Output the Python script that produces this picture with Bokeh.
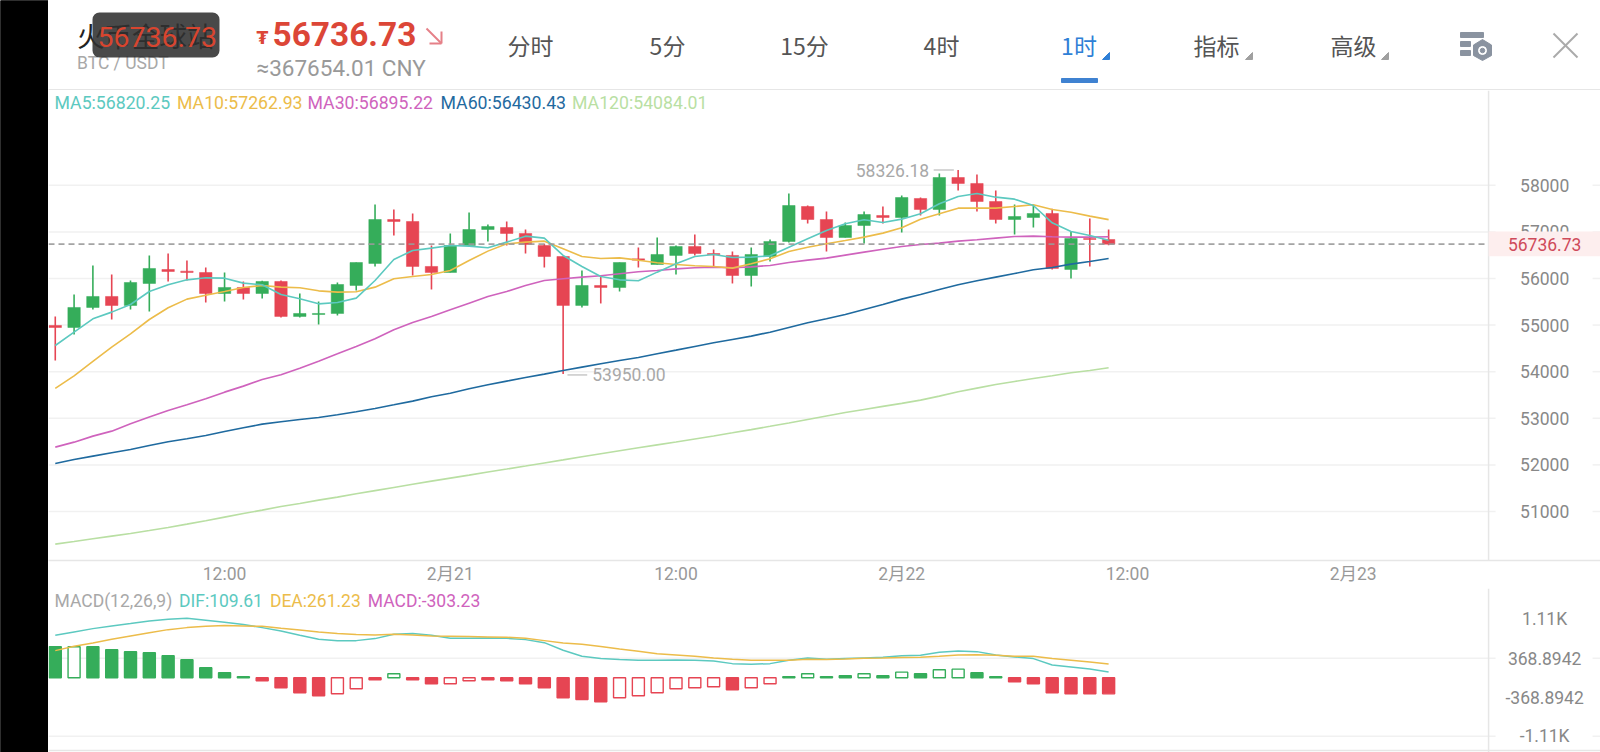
from bokeh.embed import file_html
from bokeh.layouts import column, row
from bokeh.models import BoxAnnotation, ColumnDataSource, FixedTicker, Label, Range1d, Span
from bokeh.plotting import figure
from bokeh.resources import INLINE

# ── Data ──────────────────────────────────────────────────────────────────────
hours = list(range(57))

open_ = [54991, 54948, 55378, 55614, 55421, 55893, 56193, 56157, 56129, 55678,
         55807, 55678, 55936, 55185, 55227, 55249, 55850, 56322, 57266, 57223,
         56258, 56129, 56708, 57051, 57094, 56966, 56708, 56472, 55421, 55850,
         55807, 56422, 56300, 56494, 56687, 56536, 56494, 56064, 56472, 56794,
         57545, 57266, 56880, 57137, 57352, 57309, 57717, 57481, 58167, 58039,
         57652, 57266, 57309, 57395, 56193, 56858, 56837]
close = [54948, 55378, 55614, 55421, 55914, 56215, 56150, 56129, 55678, 55807,
         55678, 55936, 55185, 55249, 55249, 55871, 56343, 57266, 57223, 56258,
         56129, 56708, 57051, 57116, 56966, 56730, 56472, 55421, 55850, 55807,
         56343, 56393, 56515, 56687, 56536, 56508, 56064, 56515, 56794, 57566,
         57266, 56880, 57137, 57373, 57309, 57738, 57481, 58167, 58039, 57652,
         57266, 57330, 57395, 56215, 56858, 56837, 56736.73]
high = [55185, 55657, 56279, 56086, 55957, 56494, 56536, 56386, 56236, 56129,
        55936, 55950, 55957, 55678, 55506, 55914, 56343, 57588, 57481, 57395,
        56708, 56966, 57416, 57159, 57223, 57051, 56744, 56472, 56172, 56064,
        56343, 56665, 56880, 56708, 56944, 56622, 56579, 56665, 56837, 57824,
        57566, 57438, 57202, 57438, 57545, 57781, 57738, 58253, 58326.18, 58232,
        57888, 57588, 57566, 57495, 57009, 57288, 57051]
low = [54240, 54798, 55335, 55120, 55335, 55292, 55936, 55957, 55485, 55506,
       55549, 55571, 55163, 55163, 55013, 55206, 55742, 56258, 56923, 56064,
       55764, 56129, 56708, 56794, 56708, 56536, 56236, 53950, 55378, 55464,
       55721, 56236, 56300, 56086, 56494, 56236, 55893, 55828, 56365, 56770,
       57180, 56579, 56880, 56751, 57180, 56987, 57352, 57352, 57888, 57438,
       57180, 56944, 57094, 56193, 56000, 56258, 56715]

ma5 = [54562, 54848, 55134, 55278, 55442, 55721, 55864, 55971, 56014, 56007,
       55900, 55864, 55657, 55564, 55456, 55485, 55578, 55957, 56408, 56601,
       56651, 56708, 56694, 56658, 56780, 56908, 56866, 56494, 56258, 56043,
       55971, 55950, 56136, 56315, 56472, 56515, 56451, 56458, 56486, 56672,
       56851, 57030, 57173, 57259, 57202, 57273, 57388, 57602, 57760, 57824,
       57745, 57702, 57566, 57195, 57009, 56923, 56820.25]
ma10 = [53640, 53911, 54219, 54526, 54813, 55120, 55371, 55557, 55642, 55721,
        55807, 55850, 55814, 55800, 55735, 55707, 55714, 55814, 55993, 56043,
        56086, 56172, 56386, 56587, 56744, 56780, 56801, 56637, 56472, 56429,
        56443, 56393, 56336, 56300, 56272, 56258, 56222, 56315, 56422, 56579,
        56672, 56744, 56815, 56887, 56973, 57087, 57273, 57388, 57509, 57509,
        57509, 57545, 57581, 57481, 57423, 57338, 57262.93]
ma30 = [52381, 52488, 52617, 52724, 52882, 53025, 53168, 53289, 53418, 53561,
        53690, 53833, 53933, 54076, 54226, 54383, 54541, 54705, 54898, 55056,
        55185, 55328, 55471, 55614, 55721, 55850, 55957, 55993, 56029, 56057,
        56100, 56143, 56172, 56207, 56229, 56243, 56229, 56250, 56279, 56343,
        56393, 56436, 56501, 56565, 56629, 56687, 56730, 56758, 56801, 56830,
        56866, 56901, 56908, 56894, 56887, 56887, 56895.22]
ma60 = [52030, 52116, 52188, 52259, 52331, 52417, 52495, 52560, 52631, 52717,
        52796, 52874, 52924, 52974, 53017, 53075, 53139, 53211, 53289, 53368,
        53461, 53539, 53632, 53718, 53797, 53876, 53947, 54026, 54097, 54169,
        54240, 54305, 54384, 54462, 54541, 54620, 54691, 54763, 54848, 54949,
        55049, 55135, 55228, 55335, 55442, 55557, 55657, 55764, 55864, 55950,
        56029, 56107, 56186, 56236, 56308, 56365, 56430.43]
ma120 = [50299, 50356, 50414, 50471, 50528, 50592, 50657, 50728, 50800, 50879,
         50957, 51029, 51108, 51172, 51243, 51308, 51379, 51447, 51515, 51583,
         51651, 51716, 51780, 51846, 51910, 51975, 52042, 52107, 52175, 52240,
         52305, 52368, 52430, 52492, 52556, 52620, 52688, 52757, 52828, 52900,
         52975, 53050, 53125, 53190, 53255, 53320, 53389, 53475, 53568, 53647,
         53725, 53790, 53854, 53911, 53976, 54026, 54084.01]

dif = [804, 867, 930, 981, 1025, 1075, 1107, 1126, 1088, 1050,
       1006, 949, 886, 804, 728, 703, 703, 741, 823, 836,
       804, 747, 747, 754, 747, 722, 665, 520, 407, 363,
       344, 331, 331, 337, 331, 318, 268, 255, 268, 331,
       375, 350, 363, 375, 388, 419, 426, 482, 508, 495,
       432, 394, 363, 243, 205, 167, 109.61]
dea = [514, 596, 659, 728, 791, 854, 911, 949, 974, 987,
       981, 974, 936, 905, 867, 836, 817, 810, 823, 810,
       791, 785, 779, 772, 766, 747, 703, 659, 634, 590,
       545, 501, 457, 432, 407, 375, 350, 331, 331, 331,
       350, 344, 356, 369, 375, 382, 388, 407, 432, 438,
       426, 407, 407, 363, 331, 300, 261.23]
macd = [586, 586, 586, 530, 492, 473, 416, 341, 189, 95,
        19, -57, -189, -284, -341, -303, -208, -38, 76, -38,
        -113, -113, -57, -38, -57, -113, -189, -378, -410, -454,
        -378, -341, -284, -208, -189, -170, -227, -189, -113, 19,
        76, 19, 38, 76, 38, 107, 76, 151, 164, 95,
        19, -76, -113, -284, -303, -303, -303.23]
macd_hollow = [1, 15, 16, 18, 21, 22, 30, 31, 32, 33, 34, 35, 37, 38, 40, 43, 45, 47, 48]

last_price = 56736.73
high_price = 58326.18
low_price = 53950.00
price_ticks = [51000, 52000, 53000, 54000, 55000, 56000, 57000, 58000]
macd_ticks = [1106.68, 368.8942, -368.8942, -1106.68]
macd_tick_labels = ["1.11K", "368.8942", "-368.8942", "-1.11K"]
macd_grid = [368.8942, -1106.68]
time_ticks = [9, 21, 33, 45, 57, 69]
time_labels = ["12:00", "2月21", "12:00", "2月22", "12:00", "2月23"]

ma_labels = ["MA5:56820.25", "MA10:57262.93", "MA30:56895.22", "MA60:56430.43", "MA120:54084.01"]
macd_labels = ["MACD(12,26,9)", "DIF:109.61", "DEA:261.23", "MACD:-303.23"]
tab_labels = ["分时", "5分", "15分", "4时", "1时", "指标", "高级"]

# ── Styles ────────────────────────────────────────────────────────────────────
LATIN = "Roboto, 'Noto Sans CJK SC'"
CJK = "'Noto Sans CJK SC'"
GREEN = "#35ad5a"
RED = "#e64553"
TEAL = "#5cc9c0"
YELLOW = "#ecbc4a"
PINK = "#cf63bd"
BLUE = "#1f6a9f"
LIGHT = "#b9dfa3"
GRID = "#f1f1f1"
RULE = "#e6e6e6"
TXT = 17.5

STRIP = 48
WIDTH = 1552
# the frames run to the right edge of the page, the axis column is part of them
X_MIN = -0.36
X_RULE = 76.2
X_TICK = 76.57
X_GRID_BACK = 81.73
X_MAX = 82.15
X_LABEL = 79.18


def text(p, s, x, y, color, size=TXT, font=LATIN, align="left", style="normal", units="data", level="annotation"):
    p.add_layout(Label(
        x=x, y=y, x_units=units, y_units=units, text=s, level=level,
        text_color=color, text_font=font, text_font_size=f"{size}px",
        text_font_style=style, text_align=align, text_baseline="middle",
    ))


def grid_rows(p, values, color=GRID):
    # gridline plus the short stub on the far side of the axis labels
    p.segment(x0=[X_MIN] * len(values), x1=[X_TICK] * len(values), y0=values, y1=values,
              line_color=color, line_width=1.5)
    p.segment(x0=[X_GRID_BACK] * len(values), x1=[X_MAX] * len(values), y0=values, y1=values,
              line_color=color, line_width=1.5)


# ── Black strip on the left of the screenshot ─────────────────────────────────
strip = figure(
    width=STRIP, height=752, output_backend="svg", toolbar_location=None,
    x_range=Range1d(0, 1), y_range=Range1d(0, 1), x_axis_type=None, y_axis_type=None,
    min_border=0, outline_line_color=None, background_fill_color="black",
    border_fill_color="black",
)
strip.grid.visible = False
strip.frame_align = False
strip.quad(left=[0], right=[1], top=[1], bottom=[0], color="black")

# ── Header: plain pixel ranges, same numbers as the screenshot ────────────────
head = figure(
    width=WIDTH, height=90, output_backend="svg", toolbar_location=None,
    x_range=Range1d(48, 1600), y_range=Range1d(90, 0),
    x_axis_type=None, y_axis_type=None, min_border=0, outline_line_color=None,
)
head.grid.visible = False
head.frame_align = False

text(head, "火币全球站", 76.5, 34, "#222222", size=27.5, font=CJK)
text(head, "BTC / USDT", 76.5, 62, "#a8a8a8", size=17.5)
head.add_layout(BoxAnnotation(
    left=92, right=219, top=12, bottom=57,
    fill_color="#303030", fill_alpha=0.88, line_color=None, border_radius=7, level="overlay",
))
text(head, "56736.73", 97, 36, "#d8452f", size=28.5, level="overlay")

text(head, "₮", 262, 37, "#dc4637", size=17, font="'DejaVu Sans'", align="center", style="bold")
text(head, "56736.73", 272, 33, "#dc4637", size=33.4, style="bold")
text(head, "≈367654.01 CNY", 256, 67.5, "#999999", size=22.5)

head.segment(x0=[426, 441, 429], y0=[28, 31, 43], x1=[441, 441, 441], y1=[43, 43, 43],
             line_color="#e58088", line_width=2)

tab_x = [530, 667, 804, 941, 1078.5, 1216, 1353]
for label, x in zip(tab_labels, tab_x):
    color = "#2f7fd6" if label == "1时" else "#555555"
    text(head, label, x, 44.5, color, size=23, font=CJK, align="center")

# little corner triangles next to the drop-down tabs
for x, color in zip([1102, 1245, 1381], ["#2f7fd6", "#a0a0a0", "#a0a0a0"]):
    head.patch(x=[x, x + 7, x + 7], y=[59, 59, 52], color=color)
head.quad(left=[1061], right=[1097], top=[78], bottom=[82], color="#3f82d1")

# settings icon and close cross
head.quad(left=[1460, 1460, 1460], right=[1483, 1470, 1470], top=[32, 41, 50], bottom=[37, 46, 55], color="#8a93a0")
head.patch(x=[1482, 1491, 1491, 1482, 1473, 1473], y=[39, 44.5, 55, 60, 55, 44.5], color="#8a93a0")
head.scatter(x=[1482], y=[50], size=8, color="white")
head.scatter(x=[1482], y=[50], size=4.5, color="#8a93a0")
head.segment(x0=[1553, 1553], y0=[33, 57], x1=[1577, 1577], y1=[57, 33], line_color="#aaaaaa", line_width=2)
head.quad(left=[48], right=[1600], top=[89], bottom=[90], color=RULE)

# ── Price panel ───────────────────────────────────────────────────────────────
x_range = Range1d(X_MIN, X_MAX)

price = figure(
    width=WIDTH, height=498, output_backend="svg", toolbar_location=None,
    x_range=x_range, y_range=Range1d(49948, 60034), y_axis_type=None,
    min_border_left=0, min_border_right=0, min_border_top=0, min_border_bottom=28,
    outline_line_color=None,
)
price.frame_align = False
price.grid.visible = False

price.xaxis.ticker = FixedTicker(ticks=time_ticks)
price.xaxis.major_label_overrides = dict(zip(time_ticks, time_labels))
price.xaxis.major_tick_line_color = None
price.xaxis.minor_tick_line_color = None
price.xaxis.major_tick_out = 0
price.xaxis.major_tick_in = 0
price.xaxis.minor_tick_out = 0
price.xaxis.minor_tick_in = 0
price.xaxis.axis_line_color = RULE
price.xaxis.axis_line_width = 1.5
price.xaxis.major_label_standoff = 3
price.xaxis.major_label_text_color = "#999999"
price.xaxis.major_label_text_font = LATIN
price.xaxis.major_label_text_font_size = f"{TXT}px"

grid_rows(price, price_ticks)
price.add_layout(Span(location=X_RULE, dimension="height", line_color=RULE, line_width=1.5))

candles = ColumnDataSource(dict(
    x=hours, open=open_, close=close, high=high, low=low,
    top=[max(a, b) for a, b in zip(open_, close)],
    bottom=[min(a, b) for a, b in zip(open_, close)],
    color=[GREEN if c > o else RED for o, c in zip(open_, close)],
))
price.segment(x0="x", y0="low", x1="x", y1="high", source=candles, line_color="color", line_width=1.6)
price.vbar(x="x", top="top", bottom="bottom", width=0.66, source=candles,
           fill_color="color", line_color="color", line_width=0.5)

for values, color in [(ma120, LIGHT), (ma60, BLUE), (ma30, PINK), (ma10, YELLOW), (ma5, TEAL)]:
    price.line(hours, values, line_color=color, line_width=1.6)

price.line([X_MIN, X_RULE - 0.1], [last_price, last_price], line_color="#9a9a9a",
           line_width=1.8, line_dash=[6, 4], line_alpha=0.9)

# high / low callouts
price.segment(x0=[46.7, 27.23], y0=[high_price, low_price - 20], x1=[47.77, 28.28], y1=[high_price, low_price - 20],
              line_color="#c8c8c8", line_width=1.5)
price.add_layout(Label(x=46.7, y=high_price, text=f"{high_price:.2f}", x_offset=-4.5,
                       text_align="right", text_baseline="middle", text_color="#a8a8a8",
                       text_font=LATIN, text_font_size=f"{TXT}px"))
price.add_layout(Label(x=28.28, y=low_price - 20, text=f"{low_price:.2f}", x_offset=5,
                       text_align="left", text_baseline="middle", text_color="#a8a8a8",
                       text_font=LATIN, text_font_size=f"{TXT}px"))

# price scale
for value in price_ticks:
    text(price, str(value), X_LABEL, value, "#888888", align="center")

# current price tag on the axis
price.add_layout(BoxAnnotation(
    left=X_RULE, right=X_MAX, top=57009, bottom=56478,
    fill_color="#fdeeee", fill_alpha=1, line_color=None, level="overlay",
))
text(price, f"{last_price:.2f}", X_LABEL, last_price, "#cf4a5a", align="center", level="overlay")

ma_x = [54, 176.5, 307, 440, 571.5]
for label, x, color in zip(ma_labels, ma_x, [TEAL, YELLOW, PINK, BLUE, LIGHT]):
    text(price, label, x - STRIP, 12, color, size=17.7, units="canvas")

# ── MACD panel ────────────────────────────────────────────────────────────────
sub = figure(
    width=WIDTH, height=164, output_backend="svg", toolbar_location=None,
    x_range=x_range, y_range=Range1d(-1413, 1689), x_axis_type=None, y_axis_type=None,
    min_border=0, outline_line_color=None,
)
sub.frame_align = False
sub.grid.visible = False

grid_rows(sub, macd_grid)
sub.segment(x0=[X_MIN], x1=[X_MAX], y0=[-1375], y1=[-1375], line_color=RULE, line_width=1.5)
sub.add_layout(Span(location=X_RULE, dimension="height", line_color=RULE, line_width=1.5))

bars = ColumnDataSource(dict(
    x=hours, top=macd,
    line=[GREEN if v > 0 else RED for v in macd],
    fill=["white" if i in macd_hollow else (GREEN if v > 0 else RED) for i, v in zip(hours, macd)],
))
sub.vbar(x="x", top="top", bottom=0, width=0.64, source=bars,
         fill_color="fill", line_color="line", line_width=1.4)
sub.line(hours, dif, line_color=TEAL, line_width=1.5)
sub.line(hours, dea, line_color=YELLOW, line_width=1.5)

for value, label in zip(macd_ticks, macd_tick_labels):
    text(sub, label, X_LABEL, value, "#888888", align="center")

macd_x = [54, 178.5, 269.4, 367.3]
for label, x, color in zip(macd_labels, macd_x, ["#a8a8a8", TEAL, YELLOW, PINK]):
    text(sub, label, x - STRIP, 12, color, units="canvas")

layout = row(strip, column(head, price, sub, spacing=0), spacing=0)
open("out.html", "w").write(file_html(layout, INLINE))
